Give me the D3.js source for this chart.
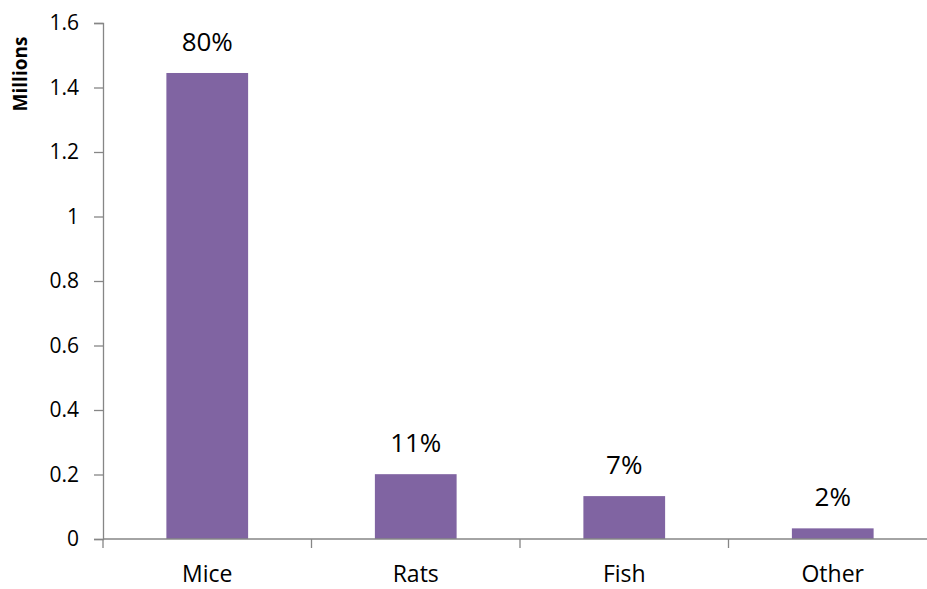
<!DOCTYPE html>
<html>
<head>
<meta charset="utf-8">
<script src="https://cdn.jsdelivr.net/npm/d3@7"></script>
<style>
  html, body { margin: 0; padding: 0; background: #fff; overflow: hidden; }
  svg { display: block; }
</style>
</head>
<body>
<script>
// data (millions)
var categories = ["Mice", "Rats", "Fish", "Other"];
var counts = [1.445, 0.201, 0.133, 0.033];
var shares = ["80%", "11%", "7%", "2%"];
var yTicks = [0, 0.2, 0.4, 0.6, 0.8, 1, 1.2, 1.4, 1.6];

var width = 927, height = 589;
var margin = {top: 23, right: -10, bottom: 50, left: 103};

var svg = d3.select("body")
            .append("svg")
            .attr("width", width)
            .attr("height", height)
            .style("font-family", "'Open Sans', sans-serif");

var x = d3.scaleBand()
          .domain(categories)
          .range([margin.left, width - margin.right])
          .paddingInner(0.608)
          .paddingOuter(0.304);

var y = d3.scaleLinear()
          .domain([0, 1.6])
          .range([height - margin.bottom, margin.top]);

var rows = categories.map(function(c, i) {
  return {name: c, value: counts[i], share: shares[i]};
});

// bars
svg.selectAll("rect.bar")
   .data(rows)
   .enter()
   .append("rect")
   .attr("class", "bar")
   .attr("x", function(d) { return x(d.name); })
   .attr("width", x.bandwidth())
   .attr("y", function(d) { return y(d.value); })
   .attr("height", function(d) { return y(0) - y(d.value); })
   .attr("fill", "#8064a2");

// y axis
var yAxis = svg.append("g")
   .attr("transform", "translate(" + margin.left + ",0)")
   .call(d3.axisLeft(y).tickValues(yTicks).tickSize(9).tickPadding(15)
           .tickFormat(function(d) { return d3.format("")(+d.toFixed(1)); }));

// x axis: ticks sit on the category boundaries
var xAxis = svg.append("g")
   .attr("transform", "translate(0," + y(0) + ")");

xAxis.append("line")
     .attr("x1", margin.left)
     .attr("x2", width - margin.right)
     .attr("stroke", "#868686")
     .attr("stroke-width", 1.3);

var bounds = categories.map(function(c) { return x(c) - x.step() * x.paddingInner() / 2; });
xAxis.selectAll("line.tk")
     .data(bounds)
     .enter()
     .append("line")
     .attr("class", "tk")
     .attr("x1", function(d) { return d; })
     .attr("x2", function(d) { return d; })
     .attr("y1", 0)
     .attr("y2", 9)
     .attr("stroke", "#868686")
     .attr("stroke-width", 1.3);

xAxis.selectAll("text")
     .data(categories)
     .enter()
     .append("text")
     .attr("x", function(d) { return x(d) + x.bandwidth() / 2; })
     .attr("y", 43)
     .attr("text-anchor", "middle")
     .attr("font-size", "23px")
     .attr("fill", "#000")
     .text(function(d) { return d; });

yAxis.select(".domain").attr("stroke", "#868686").attr("stroke-width", 1.3);
yAxis.selectAll(".tick line").attr("stroke", "#868686").attr("stroke-width", 1.3);
yAxis.selectAll(".tick text")
     .attr("font-size", "21px")
     .attr("font-family", "'Open Sans', sans-serif")
     .attr("fill", "#000");

// share labels over the bars
svg.selectAll("text.share")
   .data(rows)
   .enter()
   .append("text")
   .attr("class", "share")
   .attr("x", function(d) { return x(d.name) + x.bandwidth() / 2; })
   .attr("y", function(d) { return y(d.value) - 22; })
   .attr("text-anchor", "middle")
   .attr("font-size", "26px")
   .attr("fill", "#000")
   .text(function(d) { return d.share; });

// axis title
svg.append("text")
   .attr("transform", "translate(27,74) rotate(-90)")
   .attr("text-anchor", "middle")
   .attr("font-size", "19px")
   .attr("font-weight", "bold")
   .attr("fill", "#000")
   .text("Millions");
</script>
</body>
</html>
